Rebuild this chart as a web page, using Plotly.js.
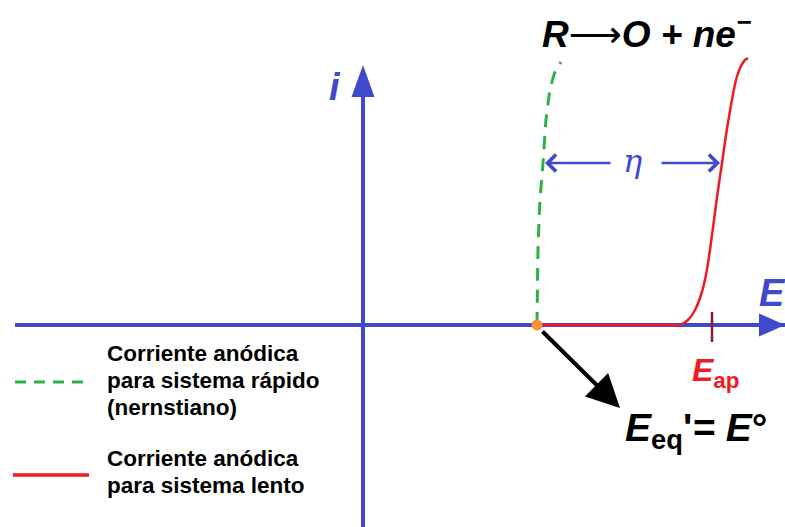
<!DOCTYPE html>
<html>
<head>
<meta charset="utf-8">
<script src="https://cdn.plot.ly/plotly-3.0.1.min.js"></script>
<style>
  html, body { margin: 0; padding: 0; background: #ffffff; }
  #chart { width: 785px; height: 527px; }
</style>
</head>
<body>
<div id="chart"></div>
<script>
// Anodic current-potential curves, in diagram units (origin at the axes crossing)
const E_fast = [174, 175, 177, 180, 183, 187, 192, 198];
const i_fast = [0, 75, 125, 162, 205, 235, 253, 263];

const E_slow = [174, 300, 317, 325, 332, 338, 343, 347, 351, 355, 359, 363, 368, 373, 378, 382, 385];
const i_slow = [0, 0, 0, 5, 15, 30, 50, 75, 105, 135, 162, 190, 220, 245, 259, 265, 267];

const E_eq = 174;        // equilibrium potential, E°
const E_ap = 349;        // applied potential
const eta_level = 162;   // current level where the overpotential is marked

// Axis extents
const E_axis = [-348, 422];
const i_axis = [-202, 260];

// Legend entries
const legendLines = [
  ["Corriente anódica", "para sistema rápido", "(nernstiano)"],
  ["Corriente anódica", "para sistema lento"]
];

const BLUE = "#4048cc";
const GREEN = "#2fb049";
const RED = "#ed1c24";
const FONT = "Liberation Sans, Arial, sans-serif";

const traces = [
  // axes
  { x: E_axis, y: [0, 0], mode: "lines", line: { color: BLUE, width: 4 }, hoverinfo: "skip" },
  { x: [0, 0], y: [i_axis[0], i_axis[1] - 20], mode: "lines", line: { color: BLUE, width: 4 }, hoverinfo: "skip" },
  // applied-potential tick
  { x: [E_ap, E_ap], y: [-17, 13], mode: "lines", line: { color: "#8e1b3b", width: 2.5 }, hoverinfo: "skip" },
  // slow system
  { x: E_slow, y: i_slow, mode: "lines", line: { color: RED, width: 2.5, shape: "spline", smoothing: 0.5 }, hoverinfo: "skip" },
  // fast (nernstian) system
  { x: E_fast, y: i_fast, mode: "lines", line: { color: GREEN, width: 3, dash: "13px,9px", shape: "spline", smoothing: 0.6 }, hoverinfo: "skip" },
  // equilibrium point
  { x: [E_eq], y: [0], mode: "markers", marker: { color: "#f5923a", size: 11 }, hoverinfo: "skip" },
  // legend samples
  { x: [-348, -273], y: [-57, -57], mode: "lines", line: { color: GREEN, width: 3, dash: "11px,8px" }, hoverinfo: "skip" },
  { x: [-350, -274], y: [-150, -150], mode: "lines", line: { color: RED, width: 3.5 }, hoverinfo: "skip" }
];

// Filled arrowheads at the end of each axis
const xTip = E_axis[1], yTip = i_axis[1];
const shapes = [
  { type: "path", xref: "x", yref: "y", line: { width: 0 }, fillcolor: BLUE,
    path: `M${xTip},0 L${xTip - 26},11.5 L${xTip - 26},-11.5 Z` },
  { type: "path", xref: "x", yref: "y", line: { width: 0 }, fillcolor: BLUE,
    path: `M0,${yTip} L-11.5,${yTip - 32} L11.5,${yTip - 32} Z` }
];

const bi = (size, color) => ({ family: FONT, size: size, color: color, weight: "bold", style: "italic" });
const up = (s) => `<span style="font-style:normal">${s}</span>`;
const longArrow = `<span style="font-family:'DejaVu Sans';font-style:normal;font-weight:normal">⟶</span>`;

const annotations = [
  { x: 283, y: 293, text: `R${longArrow}O + ne<sup>−</sup>`, showarrow: false, font: bi(37, "#000000") },
  { x: -28, y: 238, text: "i", showarrow: false, font: bi(38, BLUE) },
  { x: 394, y: 32, text: "E", showarrow: false, xanchor: "left", font: bi(38, BLUE) },
  { x: 269, y: eta_level + 2, text: "η", showarrow: false,
    font: { family: "DejaVu Serif, serif", size: 32, color: BLUE, style: "italic" } },
  { x: 327, y: -47, text: `E<sub>${up("ap")}</sub>`, showarrow: false, xanchor: "left", font: bi(32, RED) },
  { x: 260, y: -105, text: `E<sub>${up("eq")}</sub>${up("'")}= E${up("°")}`, showarrow: false, xanchor: "left", font: bi(39, "#000000") },
  // overpotential arrows
  { x: 182, y: eta_level, ax: 249, ay: eta_level, axref: "x", ayref: "y", text: "", showarrow: true,
    arrowhead: 4, arrowsize: 1.3, arrowwidth: 2.5, arrowcolor: BLUE },
  { x: 357, y: eta_level, ax: 297, ay: eta_level, axref: "x", ayref: "y", text: "", showarrow: true,
    arrowhead: 4, arrowsize: 1.3, arrowwidth: 2.5, arrowcolor: BLUE },
  // pointer from the equilibrium point to its label
  { x: 257, y: -83, ax: 178, ay: -5, axref: "x", ayref: "y", text: "", showarrow: true,
    arrowhead: 2, arrowsize: 1.65, arrowwidth: 4, arrowcolor: "#000000" }
];

// legend text, one annotation per line
const legendY = [[-28, -55, -82], [-133, -160]];
legendLines.forEach((block, b) => {
  block.forEach((line, k) => {
    annotations.push({ x: -258, y: legendY[b][k], text: line, showarrow: false, xanchor: "left",
      font: { family: FONT, size: 22.5, color: "#000000", weight: "bold" } });
  });
});

const layout = {
  width: 785, height: 527,
  margin: { l: 0, r: 0, t: 0, b: 0, pad: 0 },
  paper_bgcolor: "#ffffff", plot_bgcolor: "#ffffff",
  showlegend: false,
  xaxis: { range: [-363, 422], visible: false, fixedrange: true },
  yaxis: { range: [-202, 325], visible: false, fixedrange: true },
  shapes: shapes,
  annotations: annotations
};

Plotly.newPlot("chart", traces, layout, { displayModeBar: false, staticPlot: true });
</script>
</body>
</html>
